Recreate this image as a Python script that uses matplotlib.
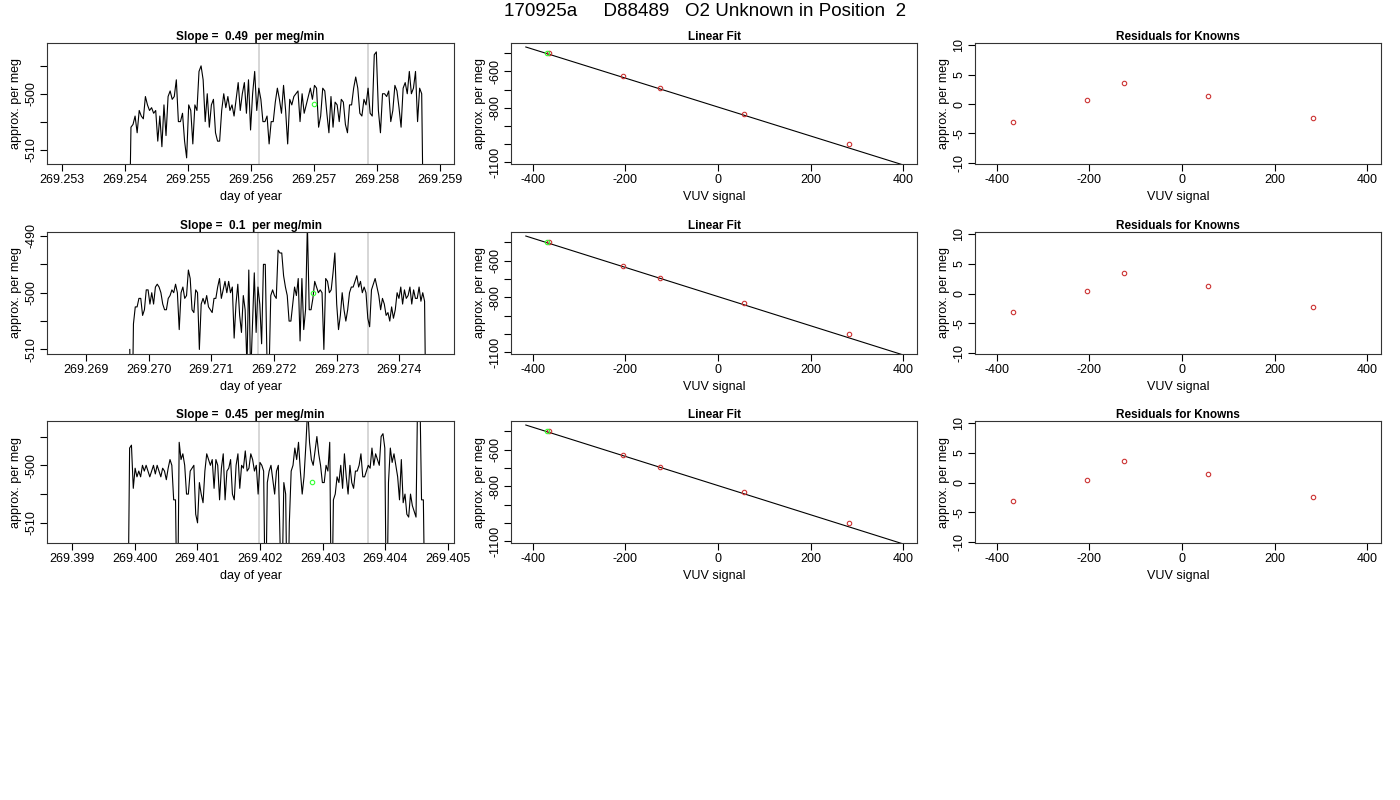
import numpy as np
import matplotlib
matplotlib.use("Agg")
import matplotlib.pyplot as plt

plt.rcParams['font.family'] = ['Liberation Sans', 'DejaVu Sans']
plt.rcParams['axes.unicode_minus'] = False

title = "170925a     D88489   O2 Unknown in Position  2"
slopes = ["0.49", "0.1", "0.45"]

ts1 = [-530, -506, -505.5, -504, -507, -503, -504, -504.5, -500.5, -502, -503, -502.5, -503.5, -503, -508.5, -504, -509.5, -502, -507.5, -500.5, -499.5, -501, -500.5, -497.5, -505, -505, -503.5, -508.5, -511.5, -502, -503, -509, -502, -503, -496, -495, -497.5, -505, -500, -506, -502, -501, -507, -508.5, -508.5, -503, -500, -502.5, -500.5, -503, -502, -504, -501, -498, -503, -500, -498, -503.5, -497.5, -506.5, -500, -496, -503, -499, -501, -505, -505, -504, -509, -505, -505, -501.5, -499, -501, -503.5, -498.5, -503, -509, -501, -502, -500.5, -500, -499.5, -505, -500, -503.5, -502, -500.5, -499, -501, -498.5, -499, -506, -504, -499, -499.5, -503.5, -507, -500.5, -506, -501.5, -502, -505, -501, -501.5, -505.5, -507, -502, -502, -499, -497, -499, -503.5, -504, -501, -502, -499, -503.5, -504, -493, -492.5, -503, -507, -500, -500, -500.5, -499.5, -505, -503, -498.5, -499.5, -502.5, -506, -499, -498, -500, -496, -500, -499, -496, -505, -499, -500, -530]
ts2 = [-510, -530, -505.5, -502.5, -502.5, -501, -501, -504, -503, -499.5, -499.5, -502, -500, -502, -499, -498.5, -499, -500, -502, -503, -503, -501, -500.5, -499.5, -500, -498.5, -500, -506.5, -500, -499, -501, -500.5, -496, -497.5, -503, -503.5, -499.5, -500, -510, -502, -501, -502, -500.5, -502.5, -503, -503.5, -501, -501, -499, -497.5, -501, -499.5, -498, -500, -498, -500, -499, -508, -502, -498.5, -504, -507, -500.5, -503, -513, -496, -515, -506, -496.5, -507, -499, -502, -509, -495, -495, -513, -515, -500.5, -499.5, -500.5, -501, -492.5, -493, -493, -497, -499, -500.5, -505, -505, -502, -499, -500.5, -497.5, -508.5, -497.5, -506.5, -503, -488, -503, -503, -501, -498, -499, -500, -499.5, -500, -510, -497.5, -498, -500, -499.5, -496.5, -493, -502, -506.5, -504, -500, -503, -505, -503, -500, -499, -499, -498, -497, -499, -498, -500, -499, -500, -504.5, -506, -499.5, -498.5, -497.5, -499, -500.5, -503, -501, -502, -504, -503.5, -505, -502.5, -504.5, -503, -500, -501, -499, -502, -499.5, -501, -500.5, -499, -502, -499.5, -501, -501, -499, -501.5, -500, -501.5, -530]
ts3 = [-530, -497, -496.5, -504, -500.5, -502, -501, -502, -500, -501, -500, -501, -502, -501, -500, -501.5, -500, -501, -502, -500.5, -501, -502.5, -500.5, -499, -500, -506, -506, -530, -496, -499, -498, -500, -505, -505, -501, -500.5, -500, -508.5, -510, -503, -505, -506.5, -501, -498, -499, -500, -499, -504, -499, -500, -506, -500.5, -498, -506, -501, -500.5, -499, -505, -506, -500, -498, -504, -500, -500.5, -497.5, -501, -500.5, -498, -499, -501, -500, -505, -499.5, -500, -501, -528, -503, -501, -500, -502.5, -505, -501, -500, -514, -522, -503, -505, -530, -510, -501, -500, -497, -499, -496, -501, -505, -502, -496.5, -490, -496, -499, -500, -497.5, -495, -498, -500, -503, -503, -500, -501, -496, -530, -506, -505, -502, -503, -500, -504, -498, -502, -505, -500, -503, -504, -501, -501, -500, -498, -502, -502, -501, -500, -500.5, -497, -500, -498, -499, -500, -495, -494.5, -497, -530, -503, -497, -499.5, -498, -500, -502, -506, -499, -506.5, -505, -508.5, -509, -505, -507, -508, -509, -485, -485, -506, -506, -530]
series = [ts1, ts2, ts3]
t_start = [269.25406, 269.26970, 269.39989]
t_end = [269.25874, 269.27443, 269.40464]
t_xlim = [(269.25276, 269.25922), (269.26838, 269.27487), (269.39860, 269.40510)]
t_ylim = [(-512.6, -490.9), (-510.8, -489.3), (-513.5, -492.3)]
t_ticks = [[269.253, 269.254, 269.255, 269.256, 269.257, 269.258, 269.259],
           [269.269, 269.270, 269.271, 269.272, 269.273, 269.274],
           [269.399, 269.400, 269.401, 269.402, 269.403, 269.404, 269.405]]
grey_lines = [(269.25612, 269.25785), (269.27175, 269.27350), (269.40198, 269.40372)]
green_pt = [(269.25699, -501.8), (269.27262, -500.1), (269.40283, -502.9)]

vuv = [-365, -205, -125, 57, 283]
fit_y = [[-500, -627, -692, -832, -1000], [-500, -627, -692, -832, -1000], [-500, -627, -692, -832, -1000]]
green_vuv = [-370, -500]
fit_line_x = [-415, 400]
fit_line_y = [-465, -1115]
resid = [[-3.1, 0.6, 3.5, 1.3, -2.3], [-3.1, 0.5, 3.5, 1.3, -2.3], [-3.1, 0.5, 3.6, 1.5, -2.5]]

W, H = 1400, 800
fig = plt.figure(figsize=(14, 8), dpi=100)
fig.text(705/W, 1 - 12/H, title, ha='center', va='center', fontsize=13.5)

rows = [(43, 164), (232, 354), (421, 543)]
cols = [(47, 454), (511, 917), (975, 1381)]

def mkax(r, c):
    t, b = rows[r]; l, rr = cols[c]
    ax = fig.add_axes([l/W, 1 - b/H, (rr-l)/W, (b-t)/H])
    for s in ax.spines.values():
        s.set_linewidth(0.8); s.set_color('#333333')
    ax.tick_params(labelsize=9, length=5, width=0.8, pad=2)
    return ax

def yt(ax, ticks, labels):
    ax.set_yticks(ticks)
    ax.set_yticklabels(labels, rotation=90, va='center')

mk = dict(mfc='none', ms=3.2, mew=0.8)
for r in range(3):
    ax = mkax(r, 0)
    y = series[r]
    x = np.linspace(t_start[r], t_end[r], len(y))
    for g in grey_lines[r]:
        ax.axvline(g, color='#d0d0d0', lw=1.2)
    ax.plot(x, y, color='black', lw=0.8)
    ax.plot(*green_pt[r], 'o', mec='#33ff33', **mk)
    ax.set_xlim(*t_xlim[r]); ax.set_ylim(*t_ylim[r])
    ax.set_xticks(t_ticks[r])
    ax.set_xticklabels([f"{v:.3f}" for v in t_ticks[r]])
    if r == 1:
        yt(ax, [-490, -495, -500, -505, -510], ['-490', '', '-500', '', '-510'])
    else:
        yt(ax, [-495, -500, -505, -510], ['', '-500', '', '-510'])
    ax.set_xlabel('day of year', fontsize=9, labelpad=4)
    ax.set_ylabel('approx. per meg', fontsize=9, labelpad=2)
    ax.set_title(f"Slope =  {slopes[r]}  per meg/min", fontsize=8.5, fontweight='bold', pad=2)

    ax = mkax(r, 1)
    ax.plot(fit_line_x, fit_line_y, color='black', lw=0.8)
    ax.plot(vuv, fit_y[r], 'o', mec='#cc3333', **mk)
    ax.plot(*green_vuv, 'o', mec='#33ff33', **mk)
    ax.set_xlim(-447, 430); ax.set_ylim(-1110, -443)
    ax.set_xticks([-400, -200, 0, 200, 400])
    yt(ax, [-500, -600, -700, -800, -900, -1000, -1100], ['', '-600', '', '-800', '', '', '-1100'])
    ax.set_xlabel('VUV signal', fontsize=9, labelpad=4)
    ax.set_ylabel('approx. per meg', fontsize=9, labelpad=2)
    ax.set_title("Linear Fit", fontsize=8.5, fontweight='bold', pad=2)

    ax = mkax(r, 2)
    ax.plot(vuv, resid[r], 'o', mec='#cc3333', **mk)
    ax.set_xlim(-447, 430); ax.set_ylim(-10.17, 10.34)
    ax.set_xticks([-400, -200, 0, 200, 400])
    yt(ax, [-10, -5, 0, 5, 10], ['-10', '-5', '0', '5', '10'])
    ax.set_xlabel('VUV signal', fontsize=9, labelpad=4)
    ax.set_ylabel('approx. per meg', fontsize=9, labelpad=2)
    ax.set_title("Residuals for Knowns", fontsize=8.5, fontweight='bold', pad=2)

fig.savefig('out.png', dpi=100)
